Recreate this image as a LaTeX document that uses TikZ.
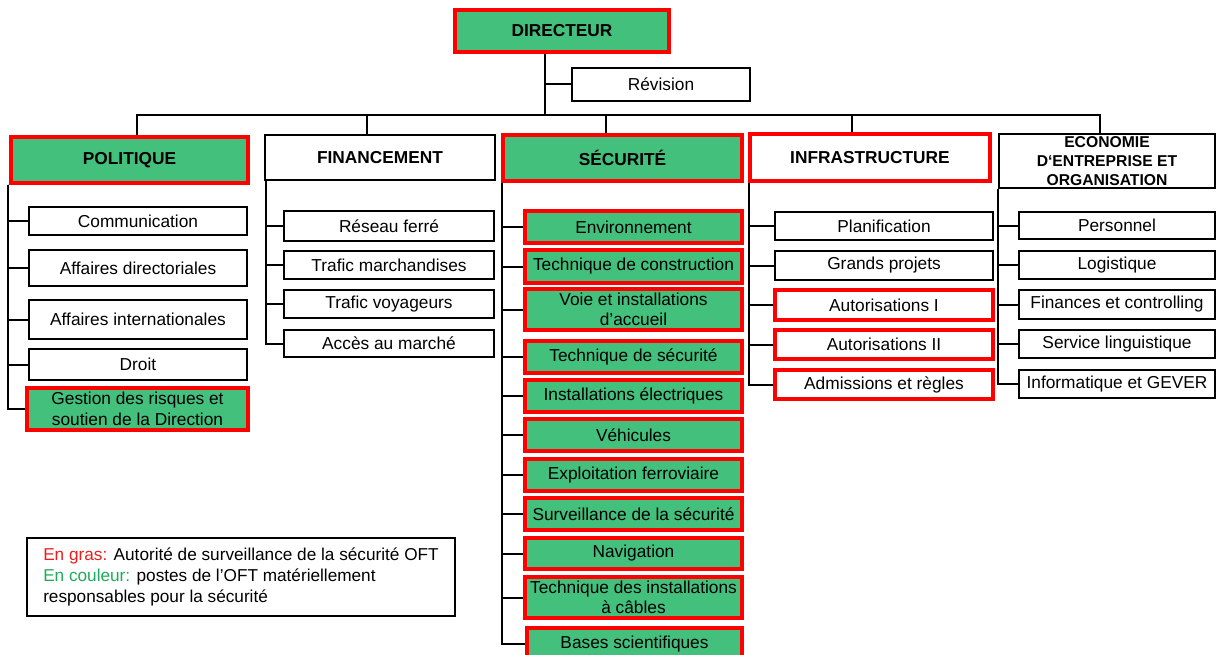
\documentclass[tikz,border=0pt]{standalone}
\usepackage{fontspec}
\setmainfont{Liberation Sans}
\usepackage{xcolor}
\usepackage{tikz}
\usetikzlibrary{positioning}
\definecolor{unitgreen}{RGB}{66,192,124}
\definecolor{unitred}{RGB}{255,0,0}
\definecolor{notegreen}{RGB}{30,172,90}
\definecolor{notered}{RGB}{235,30,30}

\tikzset{
  unit/.style={draw=black, line width=1.8pt, fill=white, align=center, inner sep=0pt,
    font=\fontsize{17.3}{20}\selectfont},
  head/.style={unit, font=\fontsize{17.3}{20}\selectfont\bfseries},
  wh/.style 2 args={minimum width=#1pt, minimum height=#2pt},
  supervised/.style={draw=unitred, line width=3.2pt},
  responsible/.style={fill=unitgreen},
  link/.style={line width=2pt, draw=black},
}

\begin{document}
\begin{tikzpicture}[x=1pt,y=-1pt]
\clip (0,0) rectangle (1217,655);
\fill[white] (0,0) rectangle (1217,655);

% top
\node[head,supervised,responsible,wh={214}{42}] (dir) at (562,31) {DIRECTEUR};
\node[unit,wh={178}{33}] (rev) at (661,84.5) {Révision};

% divisions
\node[head,supervised,responsible,wh={237}{46}] (pol) at (129.5,160) {POLITIQUE};
\node[head,wh={230}{45}] (fin) at (380,157.5) {FINANCEMENT};
\node[head,supervised,responsible,wh={239}{46}] (sec) at (622.5,158) {SÉCURITÉ};
\node[head,supervised,wh={240}{47}] (inf) at (870,157.5) {INFRASTRUCTURE};
\node[head,wh={216}{54},font=\fontsize{15.7}{19.3}\selectfont\bfseries] (eco) at (1107,161)
  {ECONOMIE\\D‘ENTREPRISE ET\\ORGANISATION};

% politique
\node[unit,wh={218}{28}] (pc1) at (138,221) {Communication};
\node[unit,wh={218}{36}] (pc2) at (138,268) {Affaires directoriales};
\node[unit,wh={218}{39}] (pc3) at (138,319.5) {Affaires internationales};
\node[unit,wh={218}{31}] (pc4) at (138,364.5) {Droit};
\node[unit,supervised,responsible,wh={221}{42},font=\fontsize{17.3}{21}\selectfont] (pc5) at (137.5,409)
  {Gestion des risques et\\soutien de la Direction};

% financement
\node[unit,wh={210}{30}] (fc1) at (389,226) {Réseau ferré};
\node[unit,wh={210}{28}] (fc2) at (389,265) {Trafic marchandises};
\node[unit,wh={210}{28}] (fc3) at (389,304) {Trafic voyageurs};
\node[unit,wh={210}{27}] (fc4) at (389,343.5) {Accès au marché};

% securite
\begin{scope}[every node/.append style={unit,supervised,responsible,minimum width=217pt}]
\node[minimum height=32pt] (sc1) at (633.5,227) {Environnement};
\node[minimum height=33pt] (sc2) at (633.5,266.5) {Technique de construction};
\node[minimum height=41pt] (sc3) at (633.5,309.5) {Voie et installations\\d’accueil};
\node[minimum height=32pt] (sc4) at (633.5,357) {Technique de sécurité};
\node[minimum height=32pt] (sc5) at (633.5,396) {Installations électriques};
\node[minimum height=32pt] (sc6) at (633.5,435) {Véhicules};
\node[minimum height=32pt] (sc7) at (633.5,475) {Exploitation ferroviaire};
\node[minimum height=32pt] (sc8) at (633.5,514) {Surveillance de la sécurité};
\node[minimum height=31pt] (sc9) at (633.5,553.5) {Navigation};
\node[minimum height=41pt] (sc10) at (633.5,597.5) {Technique des installations\\à câbles};
\node[minimum height=32pt,minimum width=215pt] (sc11) at (634.5,644) {Bases scientifiques};
\end{scope}

% infrastructure
\node[unit,wh={218}{28}] (ic1) at (884,226) {Planification};
\node[unit,wh={218}{29}] (ic2) at (884,265.5) {Grands projets};
\node[unit,supervised,wh={218}{30}] (ic3) at (884,305) {Autorisations I};
\node[unit,supervised,wh={218}{29}] (ic4) at (884,344.5) {Autorisations II};
\node[unit,supervised,wh={218}{29}] (ic5) at (884,384.5) {Admissions et règles};

% economie
\node[unit,wh={196}{27}] (ec1) at (1117,225.5) {Personnel};
\node[unit,wh={196}{28}] (ec2) at (1117,265) {Logistique};
\node[unit,wh={196}{29}] (ec3) at (1117,304.5) {Finances et controlling};
\node[unit,wh={196}{28}] (ec4) at (1117,344) {Service linguistique};
\node[unit,wh={196}{28}] (ec5) at (1117,384) {Informatique et GEVER};

% legend
\node[draw=black,line width=1.8pt,align=left,inner sep=0pt,wh={428}{78},
  font=\fontsize{17.2}{21}\selectfont] (note) at (241,577)
  {\textcolor{notered}{En gras:} Autorité de surveillance de la sécurité OFT\\\textcolor{notegreen}{En couleur:} postes de l’OFT matériellement\\responsables pour la sécurité};

% links
\coordinate (bus) at (545,115);
\draw[link] ([xshift=-17pt]dir.south) -- (bus);
\draw[link] ([xshift=-17pt]dir.south |- rev.west) -- (rev.west);
\draw[link] ([xshift=7.5pt]pol.north) |- (bus);
\draw[link] ([xshift=-13pt]fin.north) |- (bus);
\draw[link] ([xshift=-16.5pt]sec.north) |- (bus);
\draw[link] ([xshift=-18pt]inf.north) |- (bus);
\draw[link] ([xshift=-7pt]eco.north) |- (bus);

\foreach \c in {pc1,pc2,pc3,pc4,pc5}
  \draw[link] ([xshift=-1pt]pol.south west) |- (\c.west);
\foreach \c in {fc1,fc2,fc3,fc4}
  \draw[link] ([xshift=2pt]fin.south west) |- (\c.west);
\foreach \c in {sc1,sc2,sc3,sc4,sc5,sc6,sc7,sc8,sc9,sc10,sc11}
  \draw[link] ([xshift=1pt]sec.south west) |- (\c.west);
\foreach \c in {ic1,ic2,ic3,ic4,ic5}
  \draw[link] ([xshift=1pt]inf.south west) |- (\c.west);
\foreach \c in {ec1,ec2,ec3,ec4,ec5}
  \draw[link] (eco.south west) |- (\c.west);
\end{tikzpicture}
\end{document}
